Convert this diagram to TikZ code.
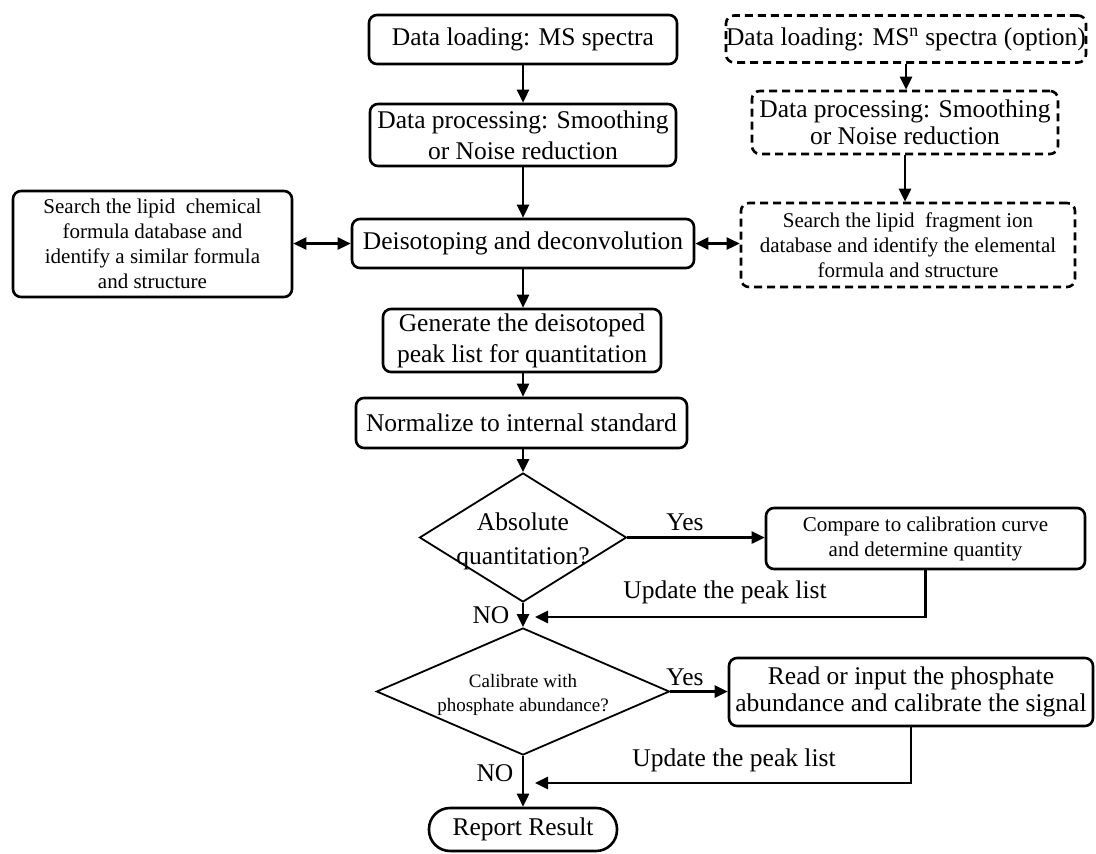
\documentclass[tikz,border=0pt]{standalone}
\usepackage{fontspec}
\setmainfont{Liberation Serif}
\usetikzlibrary{shapes.geometric,arrows.meta}

\newcommand{\bigtxt}{\fontsize{25.5}{30}\selectfont}
\newcommand{\smalltxt}{\fontsize{21}{25}\selectfont}
\newcommand{\tinytxt}{\fontsize{19}{24}\selectfont}

\tikzset{
  box/.style={draw, rectangle, rounded corners=8pt, line width=2.6pt, align=center, inner sep=0pt, font=\bigtxt},
  dbox/.style={box, dash pattern=on 8pt off 5pt},
  decision/.style={draw, diamond, line width=1.8pt, inner sep=0pt},
  lbl/.style={align=center, inner sep=0pt, font=\bigtxt},
  arr/.style={-{Triangle[length=13pt,width=12pt]}, line width=2.6pt},
  darr/.style={{Triangle[length=13pt,width=12pt]}-{Triangle[length=13pt,width=12pt]}, line width=2.6pt}
}

\begin{document}
\begin{tikzpicture}[x=1pt,y=-1pt]
        \useasboundingbox (0,0) rectangle (1096,854);

        % Main column
        \node[box, minimum width=308pt, minimum height=49pt] (load) at (523,39.5) {Data loading: MS spectra};
        \node[box, minimum width=306pt, minimum height=62pt, font=\fontsize{25.5}{31}\selectfont] (proc) at (523,135) {Data processing: Smoothing\\or Noise reduction};
        \node[box, minimum width=342pt, minimum height=49pt] (deiso) at (523,243.5) {Deisotoping and deconvolution};
        \node[box, minimum width=278pt, minimum height=63pt, font=\fontsize{25.5}{31}\selectfont] (gen) at (522,340.5) {Generate the deisotoped\\peak list for quantitation};
        \node[box, minimum width=331pt, minimum height=50pt] (norm) at (521.5,423) {Normalize to internal standard};
        \node[decision, minimum width=207pt, minimum height=129pt] (absq) at (523,537.5) {};
        \node[lbl, font=\fontsize{25.5}{34}\selectfont] (absqtxt) at (523,541) {Absolute\\quantitation?};
        \node[decision, minimum width=293pt, minimum height=127pt] (calib) at (523,691.5) {};
        \node[lbl, font=\tinytxt] (calibtxt) at (523,695) {Calibrate with\\phosphate abundance?};
        \node[box, rounded corners=21pt, minimum width=188pt, minimum height=43pt] (report) at (523,829.5) {Report Result};

        % Side boxes
        \node[box, font=\smalltxt, minimum width=279pt, minimum height=106pt] (searchL) at (152.5,244) {Search the lipid\ \ chemical\\formula database and\\identify a similar formula\\and structure};
        \node[dbox, minimum width=358pt, minimum height=47pt] (msn) at (906,39) {Data loading: MS\textsuperscript{n} spectra (option)};
        \node[dbox, minimum width=306pt, minimum height=63pt, font=\fontsize{25.5}{27}\selectfont] (procR) at (905,122.5) {Data processing: Smoothing\\or Noise reduction};
        \node[dbox, font=\smalltxt, minimum width=334pt, minimum height=84pt] (searchR) at (908,245) {Search the lipid\ \ fragment ion\\database and identify the elemental\\formula and structure};
        \node[box, font=\smalltxt, minimum width=319pt, minimum height=61pt] (comp) at (925.5,538.5) {Compare to calibration curve\\and determine quantity};
        \node[box, minimum width=364pt, minimum height=68pt, font=\fontsize{25.5}{27}\selectfont] (read) at (911,692) {Read or input the phosphate\\abundance and calibrate the signal};

        % Labels
        \node[lbl] (yes1) at (685,522) {Yes};
        \node[lbl] (yes2) at (685,677) {Yes};
        \node[lbl] (no1) at (491,615) {NO};
        \node[lbl] (no2) at (495,773) {NO};
        \node[lbl] (upd1txt) at (725,592) {Update the peak list};
        \node[lbl] (upd2txt) at (734,760) {Update the peak list};

        % Return points
        \coordinate (upd1) at (535,617);
        \coordinate (upd2) at (535,783);

        % Arrows
        \draw[arr] (load) -- (proc);
        \draw[arr] (proc) -- (deiso);
        \draw[arr] (deiso.south) -- (gen.north -| deiso.south);
        \draw[arr] (gen.south -| deiso.south) -- (norm.north -| deiso.south);
        \draw[arr] (norm.south -| deiso.south) -- (absq.north);
        \draw[arr] (absq.south) -- (calib.north);
        \draw[arr] (calib.south) -- (report.north);
        \draw[arr] (absq.east) -- (absq.east -| comp.west);
        \draw[arr] (calib.east) -- (calib.east -| read.west);
        \draw[arr] (comp.south) |- (upd1);
        \draw[arr] (read.south) |- (upd2);
        \draw[darr] (deiso.west -| searchL.east) -- (deiso.west);
        \draw[darr] (deiso.east) -- (deiso.east -| searchR.west);
        \draw[arr] (msn.south) -- (msn.south |- procR.north);
        \draw[arr] (procR.south) -- (procR.south |- searchR.north);
      \end{tikzpicture}
\end{document}
